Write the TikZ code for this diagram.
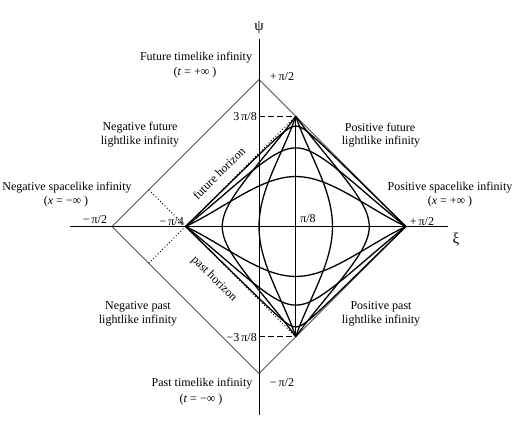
\documentclass[tikz,border=0pt]{standalone}
\usepackage{fontspec}
\setmainfont{Liberation Serif}
\begin{document}
\begin{tikzpicture}[x=1pt,y=-1pt,
  lbl/.style={font=\fontsize{12}{15}\selectfont, inner sep=0pt, align=center},
  axlbl/.style={font=\fontsize{15}{15}\selectfont, inner sep=0pt},
  curve/.style={line width=1.3pt},
  thinline/.style={line width=0.6pt},
  axisline/.style={line width=0.8pt},
  hz/.style={dash pattern=on 1pt off 2.2pt, line width=0.9pt},
  tickdash/.style={dash pattern=on 6pt off 3pt, line width=0.9pt}]
\useasboundingbox (0,0) rectangle (530,436);
\begin{scope}[shift={(259pt,-226.5pt)}, x=1.6333pt, y=1.6333pt]
  \coordinate (O) at (0,0);
  \coordinate (Top) at (0,90);
  \coordinate (Bot) at (0,-90);
  \coordinate (Lft) at (-90,0);
  \coordinate (Rgt) at (90,0);
  \coordinate (L) at (-45,0);
  \coordinate (T) at (22.5,67.5);
  \coordinate (B) at (22.5,-67.5);
  \coordinate (X0) at (-115.5,0);
  \coordinate (X1) at (115.5,0);
  \coordinate (Y0) at (0,-115.5);
  \coordinate (Y1) at (0,115);
  \coordinate (T3) at (0,67.5);
  \coordinate (B3) at (0,-67.5);
  \coordinate (HU) at (-67.5,22.5);
  \coordinate (HD) at (-67.5,-22.5);
  % axes
  \draw[axisline] (X0) -- (X1);
  \draw[axisline] (Y0) -- (Y1);
  % outer diamond
  \draw[thinline] (Top) -- (Rgt) -- (Bot) -- (Lft) -- cycle;
  % tick dashes
  \draw[tickdash] (T3) -- (T);
  \draw[tickdash] (B3) -- (B);
  % horizons
  \draw[hz] (HD) -- (T);
  \draw[hz] (HU) -- (B);
  % eta = 0 and rho = sqrt 2
  \draw[curve] (L) -- (Rgt);
  \draw[curve] (T) -- (B);
  % constant eta curves
  \foreach \e in {0.5,1,2,-0.5,-1,-2}{
    \draw[curve] plot[domain=-7:7, samples=281, variable=\z]
      ({(atan(exp(\z+\e)-1)-atan(1-exp(\z-\e)))/2},
       {(atan(exp(\z+\e)-1)+atan(1-exp(\z-\e)))/2});
  }
  % constant rho curves
  \foreach \r in {0.5858,1,2,3.4142}{
    \draw[curve] plot[domain=-8:8, samples=281, variable=\t]
      ({(atan(\r*exp(\t)-1)-atan(1-\r*exp(-\t)))/2},
       {(atan(\r*exp(\t)-1)+atan(1-\r*exp(-\t)))/2});
  }
\end{scope}
% axis labels
\node[axlbl] (psi) at (259,28) {ψ};
\node[axlbl] (xi) at (456,240) {ξ};
% tick labels
\node[lbl] (tTop) at (282,77) {+\,π/2};
\node[lbl] (tBot) at (282,383) {−\,π/2};
\node[lbl] (tRgt) at (422,222) {+\,π/2};
\node[lbl] (tLft) at (95,220) {−\,π/2};
\node[lbl, anchor=east] (tL) at (184,221.5) {−\,π/4};
\node[lbl] (t8) at (308,219) {π/8};
\node[lbl, anchor=east] (t38) at (257,117) {3\,π/8};
\node[lbl, anchor=east] (tm38) at (257,338) {−3\,π/8};
% region labels
\node[lbl] (ftl) at (196,57.5) {Future timelike infinity};
\node[lbl] (ftl2) at (195,72.5) {(\textit{t} = +∞ )};
\node[lbl] (nfl) at (140,127.5) {Negative future};
\node[lbl] (nfl2) at (140,141.5) {lightlike infinity};
\node[lbl] (nsi) at (67,188) {Negative spacelike infinity};
\node[lbl] (nsi2) at (66,202) {(\textit{x} = −∞ )};
\node[lbl] (pfl) at (380,127.5) {Positive future};
\node[lbl] (pfl2) at (381,141.5) {lightlike infinity};
\node[lbl] (psi1) at (450,188) {Positive spacelike infinity};
\node[lbl] (psi2) at (450,202) {(\textit{x} = +∞ )};
\node[lbl] (npl) at (138,307) {Negative past};
\node[lbl] (npl2) at (138,320.5) {lightlike infinity};
\node[lbl] (ppl) at (381,307) {Positive past};
\node[lbl] (ppl2) at (381,320.5) {lightlike infinity};
\node[lbl] (ptl) at (202,384) {Past timelike infinity};
\node[lbl] (ptl2) at (201,400) {(\textit{t} = −∞ )};
% horizon labels
\node[lbl, rotate=45] (fh) at (219,173) {future horizon};
\node[lbl, rotate=-45] (ph) at (214,279) {past horizon};
\end{tikzpicture}
\end{document}
